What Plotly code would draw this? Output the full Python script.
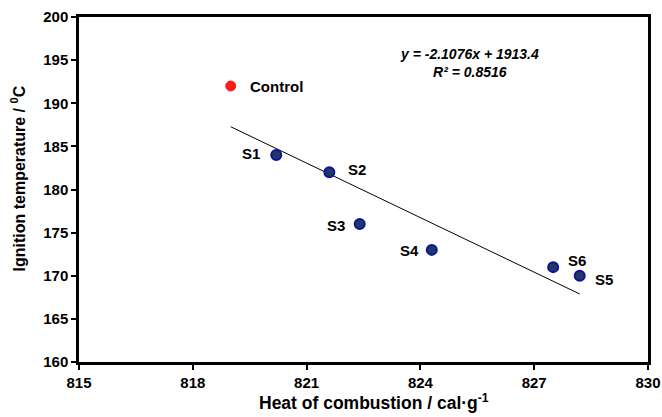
import plotly.graph_objects as go

# Data
control_x = [819.0]
control_y = [192.0]
sample_names = ["S1", "S2", "S3", "S4", "S5", "S6"]
sample_x = [820.2, 821.6, 822.4, 824.3, 828.2, 827.5]
sample_y = [184.0, 182.0, 176.0, 173.0, 170.0, 171.0]
slope = -2.1076
intercept = 1913.4
r2 = 0.8516

x_ticks = [815, 818, 821, 824, 827, 830]
y_ticks = [160, 165, 170, 175, 180, 185, 190, 195, 200]

FONT = "Liberation Sans, Arial, sans-serif"

all_x = control_x + sample_x
tx = [min(all_x), max(all_x)]
ty = [slope * v + intercept for v in tx]

fig = go.Figure()
fig.add_trace(go.Scatter(x=tx, y=ty, mode="lines",
                         line=dict(color="black", width=1), showlegend=False))
fig.add_trace(go.Scatter(x=control_x, y=control_y, mode="markers",
                         marker=dict(color="#FF1A1A", size=10, line=dict(color="#FF1A1A", width=1)),
                         showlegend=False))
fig.add_trace(go.Scatter(x=sample_x, y=sample_y, mode="markers",
                         marker=dict(color="#1F3A5F", size=10, line=dict(color="#1010A8", width=2)),
                         showlegend=False))

# label offsets (pixels) per label
offsets = {
    "S1": (-14, 2, "right"),
    "S2": (17, 3, "left"),
    "S3": (-13, -1, "right"),
    "S4": (-11, -1, "right"),
    "S5": (13, -4, "left"),
    "S6": (13, 7, "left"),
}
for n, x, y in zip(sample_names, sample_x, sample_y):
    dx, dy, anc = offsets[n]
    fig.add_annotation(x=x, y=y, text="<b>%s</b>" % n, showarrow=False,
                       xanchor=anc, yanchor="middle", xshift=dx, yshift=dy,
                       font=dict(family=FONT, size=15, color="black"))
fig.add_annotation(x=control_x[0], y=control_y[0], text="<b>Control</b>", showarrow=False,
                   xanchor="left", yanchor="middle", xshift=17, yshift=0,
                   font=dict(family=FONT, size=15, color="black"))

fig.add_annotation(x=0.686, y=0.868, xref="paper", yref="paper",
                   text="<b><i>y = %.4fx + %.1f</i></b><br><b><i>R² = %.4f</i></b>" % (slope, intercept, r2),
                   showarrow=False, align="center", xanchor="center", yanchor="middle",
                   font=dict(family=FONT, size=14, color="black"))

# axis titles as annotations for precise placement
fig.add_annotation(x=0.5, y=0, xref="paper", yref="paper", xshift=10, yshift=-40,
                   text="<b>Heat of combustion / cal·g<sup>-1</sup></b>", showarrow=False,
                   xanchor="center", yanchor="middle",
                   font=dict(family=FONT, size=17.5, color="black"))
fig.add_annotation(x=0, y=0.5, xref="paper", yref="paper", xshift=-61, yshift=11,
                   text="<b>Ignition temperature / <sup>0</sup>C</b>", showarrow=False,
                   textangle=-90, xanchor="center", yanchor="middle",
                   font=dict(family=FONT, size=16, color="black"))

axis_common = dict(showgrid=False, zeroline=False, showline=True, linecolor="black",
                   linewidth=2.5, mirror=True, ticks="outside", ticklen=5, tickwidth=2,
                   tickcolor="black", automargin=False,
                   tickfont=dict(family=FONT, size=15, color="black"))

fig.update_xaxes(range=[815, 830], tickvals=x_ticks, ticktext=["<b>%d</b>" % v for v in x_ticks],
                 **axis_common)
fig.update_yaxes(range=[160, 200], tickvals=y_ticks, ticktext=["<b>%d</b>" % v for v in y_ticks],
                 **axis_common)

fig.update_layout(width=662, height=417, margin=dict(l=79, r=14, t=17, b=55),
                  plot_bgcolor="white", paper_bgcolor="white")

fig.write_html("out.html", config={"displayModeBar": False},
               post_script="document.body.style.margin='0';document.body.style.overflow='hidden';")
